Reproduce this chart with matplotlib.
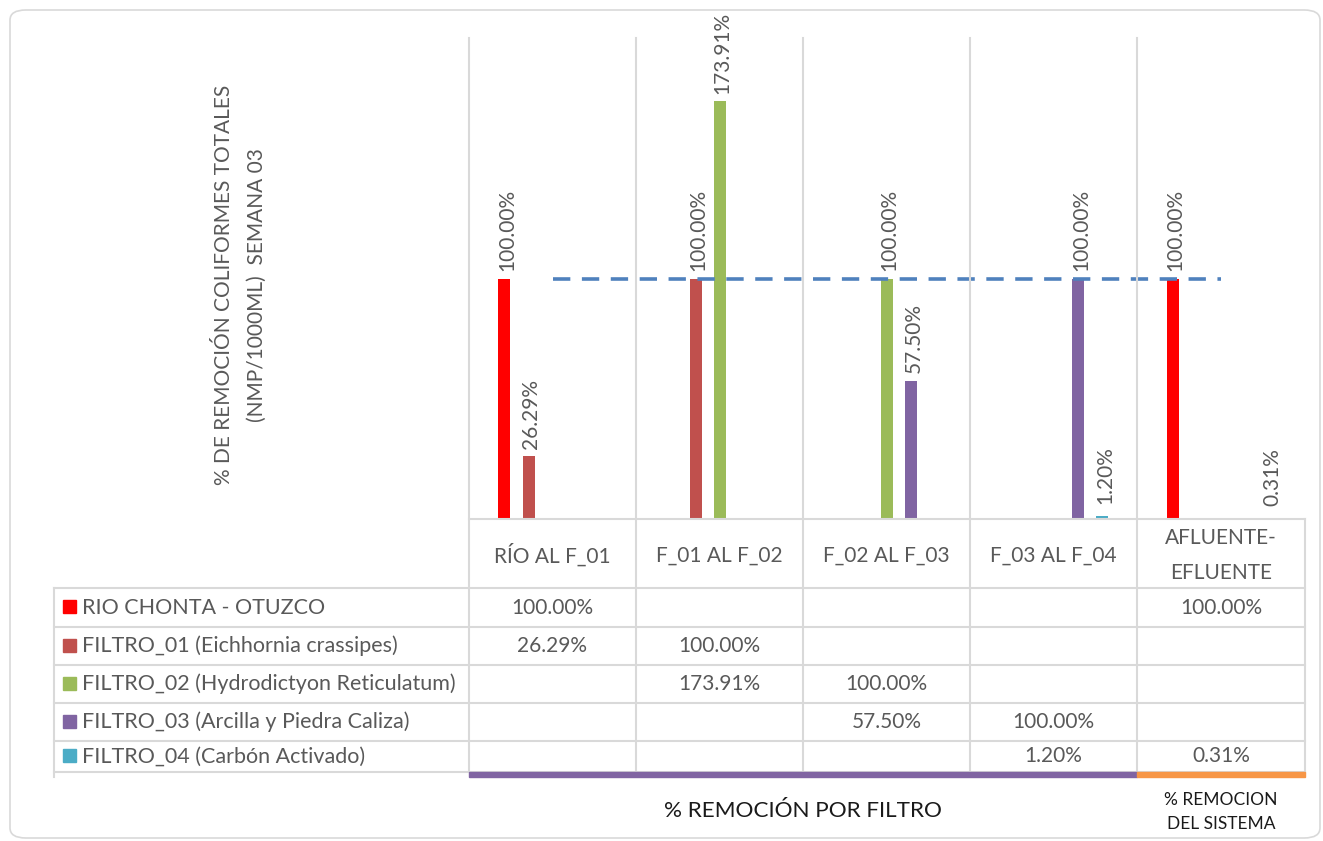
import numpy as np
import matplotlib.pyplot as plt
from matplotlib.patches import FancyBboxPatch, Rectangle

plt.rcParams["font.family"] = ["Lato", "DejaVu Sans"]

# ---- data ----
categories = ["RÍO AL F_01", "F_01 AL F_02", "F_02 AL F_03", "F_03 AL F_04", "AFLUENTE-\nEFLUENTE"]
series_names = [
    "RIO CHONTA - OTUZCO",
    "FILTRO_01 (Eichhornia crassipes)",
    "FILTRO_02 (Hydrodictyon Reticulatum)",
    "FILTRO_03 (Arcilla y Piedra Caliza)",
    "FILTRO_04 (Carbón Activado)",
]
nan = np.nan
rio_chonta = [100.00, nan, nan, nan, 100.00]
filtro_01 = [26.29, 100.00, nan, nan, nan]
filtro_02 = [nan, 173.91, 100.00, nan, nan]
filtro_03 = [nan, nan, 57.50, 100.00, nan]
filtro_04 = [nan, nan, nan, 1.20, 0.31]
reference = [100, 100, 100, 100, 100]

series_values = [rio_chonta, filtro_01, filtro_02, filtro_03, filtro_04]
colors = ["#FF0000", "#C0504D", "#9BBB59", "#8064A2", "#4BACC6"]

TXT = "#595959"
GRID = "#D9D9D9"
FS = 15
W, H = 1323, 841


def fx(px):
    return px / W


def fy(py):
    return 1 - py / H


fig = plt.figure(figsize=(W / 100, H / 100), dpi=100)

# outer rounded border
fig.patches.append(FancyBboxPatch((fx(10), fy(838)), fx(1310), (828) / H,
                                  boxstyle="round,pad=0,rounding_size=0.012",
                                  transform=fig.transFigure, fill=False,
                                  edgecolor=GRID, linewidth=1.2))

# ---- chart area ----
x_left, x_right, y_top, y_base = 469, 1305, 38, 519
ax = fig.add_axes([fx(x_left), fy(y_base), (x_right - x_left) / W, (y_base - y_top) / H])
ax.set_xlim(-0.5, len(categories) - 0.5)
ax.set_ylim(0, 200)
for s in ax.spines.values():
    s.set_visible(False)
ax.set_xticks([])
ax.set_yticks([])

x = np.arange(len(categories))
slot = 0.144
bw = 0.072
for i, (vals, col) in enumerate(zip(series_values, colors)):
    pos = x + (i - 2) * slot
    v = np.array(vals, dtype=float)
    ax.bar(pos, v, width=bw, color=col, zorder=3)
    for px, pv in zip(pos, v):
        if np.isnan(pv):
            continue
        off = 3 if pv > 20 else 5
        ax.text(px + 0.015, pv + off, f"{pv:.2f}%", rotation=90, ha="center", va="bottom",
                color=TXT, fontsize=FS)

ax.plot(x, reference, color="#4F81BD", linewidth=2.6, dashes=(4.8, 3.2), zorder=4)

# ---- table / gridlines in figure pixel space ----
lay = fig.add_axes([0, 0, 1, 1])
lay.set_xlim(0, W)
lay.set_ylim(H, 0)
lay.axis("off")
lay.patch.set_alpha(0)

col_edges = [469, 636, 803, 970, 1137, 1305]
row_edges = [519, 588, 627, 665, 703, 741, 772]
leg_left = 54

# vertical lines
for i, xe in enumerate(col_edges):
    top = y_top if i < len(col_edges) - 1 else row_edges[0]
    lay.plot([xe, xe], [top, row_edges[-1]], color=GRID, linewidth=1.5, zorder=1)
lay.plot([leg_left, leg_left], [row_edges[1], 777], color=GRID, linewidth=1.5)
# horizontal lines
lay.plot([col_edges[0], col_edges[-1]], [row_edges[0], row_edges[0]], color=GRID, linewidth=1.5)
for ye in row_edges[1:]:
    lay.plot([leg_left, col_edges[-1]], [ye, ye], color=GRID, linewidth=1.5)
# coloured bottom bars
lay.add_patch(Rectangle((col_edges[0], 772), col_edges[4] - col_edges[0], 5, color="#8064A2", zorder=3))
lay.add_patch(Rectangle((col_edges[4], 772), col_edges[5] - col_edges[4], 5, color="#F79646", zorder=3))

# category header
for j, cat in enumerate(categories):
    cx = (col_edges[j] + col_edges[j + 1]) / 2
    lay.text(cx, (row_edges[0] + row_edges[1]) / 2 + 2, cat, ha="center", va="center",
             color=TXT, fontsize=FS, linespacing=1.95)

# rows
for i, (name, vals, col) in enumerate(zip(series_names, series_values, colors)):
    cy = (row_edges[i + 1] + row_edges[i + 2]) / 2
    lay.add_patch(Rectangle((63, cy - 6.5 - 1), 13, 13, color=col))
    lay.text(82, cy, name, ha="left", va="center", color=TXT, fontsize=FS + 0.5)
    for j, v in enumerate(vals):
        if np.isnan(v):
            continue
        cx = (col_edges[j] + col_edges[j + 1]) / 2
        lay.text(cx, cy, f"{v:.2f}%", ha="center", va="center", color=TXT, fontsize=FS)

# axis title
lay.text(240, 285, "% DE REMOCIÓN COLIFORMES TOTALES\n(NMP/1000ML)  SEMANA 03", rotation=90,
         ha="center", va="center", multialignment="center", color=TXT, fontsize=FS,
         linespacing=1.8)

# bottom labels
lay.text((col_edges[0] + col_edges[4]) / 2, 811, "% REMOCIÓN POR FILTRO", ha="center", va="center",
         color="#1a1a1a", fontsize=16.2)
lay.text((col_edges[4] + col_edges[5]) / 2, 812, "% REMOCION\nDEL SISTEMA", ha="center", va="center",
         color="#1a1a1a", fontsize=12.5, linespacing=1.68)

fig.savefig("out.png", dpi=100)
